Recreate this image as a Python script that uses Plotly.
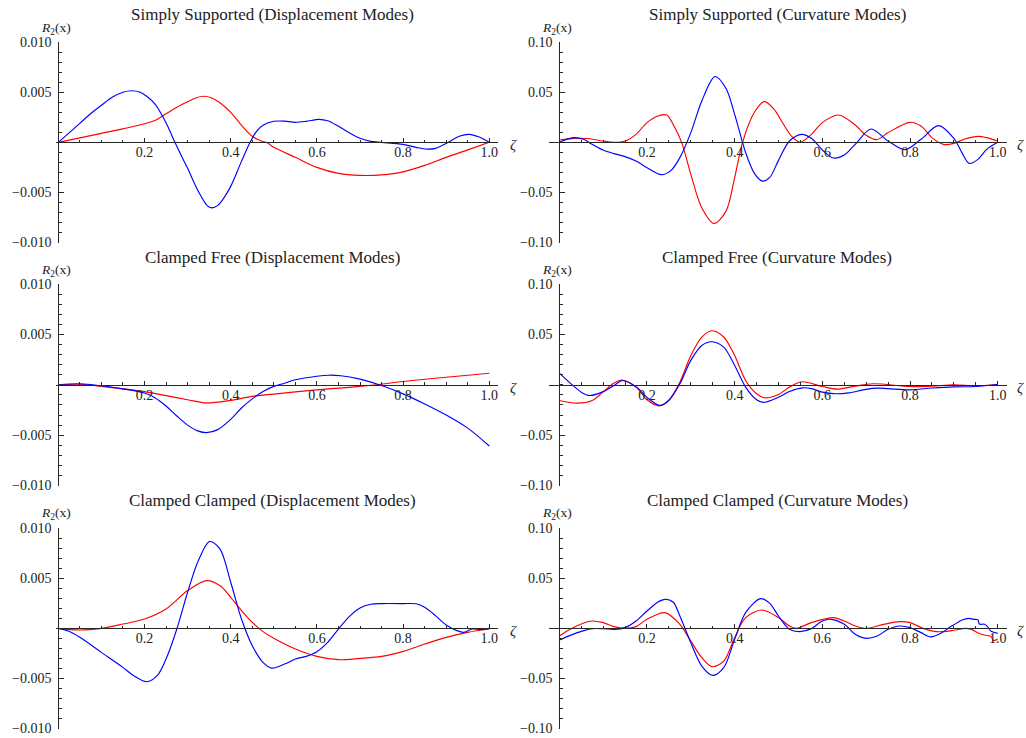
import plotly.graph_objects as go

W, H = 1026, 738

# ---------------- data: zeta positions and R2 values ----------------
# Simply Supported (Displacement Modes)
ss_disp_blue_z = [0, .025, .05, .075, .1, .125, .15, .17, .19, .205, .225, .24, .255, .27, .285, .3, .325, .345,
                  .356, .37, .385, .4, .425, .445, .46, .475, .5, .525, .55, .575, .605, .625, .65, .675, .7,
                  .725, .75, .8, .83, .855, .875, .905, .93, .954, .975, 1.0]
ss_disp_blue_v = [0, .00095, .0019, .00285, .0037, .0045, .005, .00515, .005, .0046, .0038, .00275, .0015, .00005,
                  -.0013, -.0026, -.0049, -.0063, -.00655, -.0063, -.0055, -.0044, -.0019, 0, .0011, .0017, .0021,
                  .00212, .002, .0021, .0023, .00215, .0016, .00095, .0004, .0001, 0, -.0002, -.0005, -.00068,
                  -.0006, 0, .0006, .0008, .00055, 0]
ss_disp_red_z = [0, .05, .1, .15, .2, .225, .25, .275, .3, .32, .337, .355, .375, .4, .425, .45, .47, .485, .5,
                 .55, .6, .65, .7, .75, .8, .85, .9, .95, 1.0]
ss_disp_red_v = [0, .00045, .0009, .00135, .00185, .0022, .00285, .0035, .00405, .00445, .0046, .00445, .00395,
                 .003, .0017, .0006, .00015, -.00005, -.0005, -.0015, -.0025, -.0031, -.0033, -.00325, -.00295,
                 -.0023, -.0015, -.00075, 0]

# Simply Supported (Curvature Modes)
ss_curv_blue_z = [0, .032, .055, .075, .1, .125, .15, .175, .2, .233, .255, .275, .3, .325, .355, .38, .4, .425,
                  .445, .463, .48, .5, .525, .553, .575, .6, .625, .65, .675, .711, .75, .789, .825, .865, .9,
                  .918, .935, .955, .975, 1.0]
ss_curv_blue_v = [0, .0047, .003, -.002, -.0077, -.0113, -.0143, -.0187, -.0253, -.0323, -.028, -.0153, .0097,
                  .0413, .0657, .054, .028, -.0103, -.031, -.0387, -.035, -.018, .0013, .008, .004, -.0077, -.0157,
                  -.0127, -.002, .0133, .0013, -.0073, .003, .0167, .004, -.01, -.021, -.017, -.007, 0]
ss_curv_red_z = [0, .035, .065, .1, .125, .15, .175, .2, .225, .245, .262, .279, .3, .325, .353, .38, .4, .418,
                 .445, .468, .49, .51, .53, .549, .575, .6, .637, .675, .7, .724, .75, .8, .825, .85, .876, .9,
                 .925, .956, .975, 1.0]
ss_curv_red_v = [.0023, .004, .0038, .0013, 0, .0013, .008, .0197, .0263, .0273, .016, 0, -.032, -.0653, -.081,
                 -.069, -.0353, 0, .03, .0407, .033, .019, .006, 0, .008, .0197, .0273, .0173, .007, .0027, .0097,
                 .02, .0163, .0047, -.002, -.001, .0033, .006, .0047, .0013]

# Clamped Free (Displacement Modes)
cf_disp_blue_z = [0, .05, .1, .15, .2, .225, .25, .275, .3, .325, .344, .37, .4, .425, .45, .475, .5, .525, .55,
                  .6, .627, .655, .7, .75, .8, .85, .9, .95, 1.0]
cf_disp_blue_v = [0, .0001, -.0001, -.0004, -.00082, -.0013, -.0021, -.0031, -.004, -.0046, -.00475, -.00445,
                  -.00344, -.0023, -.0014, -.00066, -.00016, .00016, .0005, .00085, .00095, .0009, .00056, -.00007,
                  -.0009, -.0019, -.003, -.0043, -.00607]
cf_disp_red_z = [0, .05, .1, .15, .2, .25, .3, .344, .4, .45, .5, .6, .7, .75, .8, .9, 1.0]
cf_disp_red_v = [0, .00005, -.00016, -.0004, -.00068, -.00108, -.00148, -.0018, -.00154, -.00115, -.00092,
                 -.0005, -.00016, .00007, .00033, .00075, .00115]

# Clamped Free (Curvature Modes)
cf_curv_blue_z = [0, .025, .05, .07, .1, .125, .144, .175, .2, .23, .25, .275, .3, .325, .348, .375, .4, .425,
                  .45, .465, .5, .525, .555, .575, .6, .63, .66, .7, .725, .75, .8, .85, .9, .95, 1.0]
cf_curv_blue_v = [.0116, .0017, -.0073, -.0106, -.0068, -.0007, .0043, -.002, -.0125, -.0205, -.0156, .001,
                  .0242, .039, .0427, .0374, .0192, -.0023, -.0149, -.0175, -.0123, -.0066, -.003, -.0038, -.0073,
                  -.0089, -.008, -.0045, -.0033, -.0038, -.005, -.0032, -.002, -.0017, .0003]
cf_curv_red_z = [0, .04, .075, .1, .125, .142, .175, .2, .228, .25, .275, .3, .325, .348, .375, .4, .425, .45,
                 .468, .5, .525, .553, .6, .633, .675, .716, .8, .85, .9, .95, 1.0]
cf_curv_red_v = [-.0156, -.0182, -.0156, -.007, .0017, .0046, -.0023, -.0149, -.0209, -.0149, .0026, .029, .0474,
                 .0536, .0474, .029, .0043, -.0089, -.0129, -.0096, -.0023, .003, -.0017, -.0043, -.0013, .001,
                 -.0017, -.0013, 0, -.001, .0003]

# Clamped Clamped (Displacement Modes)
cc_disp_blue_z = [0, .025, .05, .1, .15, .175, .205, .23, .25, .275, .3, .325, .351, .375, .4, .425, .45, .475,
                  .495, .525, .55, .575, .6, .625, .65, .675, .7, .725, .75, .8, .83, .85, .875, .9, .925, .94,
                  .96, .98, 1.0]
cc_disp_blue_v = [0, -.0003, -.0009, -.0024, -.0039, -.00473, -.00533, -.0047, -.00307, -.00007, .0036, .00677,
                  .00867, .00793, .0046, .00093, -.00173, -.0034, -.00397, -.00357, -.00307, -.0028, -.00233,
                  -.0014, -.00007, .00117, .00203, .0024, .00247, .00247, .00245, .0021, .00127, .00033, -.00023,
                  -.0004, -.00007, -.0001, 0]
cc_disp_red_z = [0, .05, .1, .15, .2, .25, .3, .344, .375, .4, .425, .45, .475, .5, .55, .6, .65, .7, .75, .8,
                 .85, .9, .95, 1.0]
cc_disp_red_v = [0, -.00017, 0, .00043, .00093, .00193, .00377, .00477, .00427, .0031, .00177, .0006, -.00033,
                 -.001, -.00207, -.0028, -.00313, -.003, -.0028, -.0023, -.00157, -.0009, -.0004, -.00007]

# Clamped Clamped (Curvature Modes)
cc_curv_blue_z = [0, .025, .05, .075, .1, .125, .15, .175, .2, .225, .241, .26, .275, .3, .325, .35, .375, .4,
                  .425, .459, .48, .5, .525, .549, .575, .6, .62, .65, .675, .7, .725, .75, .777, .8, .825, .847,
                  .87, .887, .9, .92, .933, .945, .955, .958, .97, .978, .985, 1.0]
cc_curv_blue_v = [-.0117, -.007, -.003, -.0003, -.0003, -.001, .0007, .0073, .0173, .0263, .029, .026, .0123,
                  -.0143, -.0377, -.047, -.0393, -.011, .0157, .0297, .025, .0123, -.001, -.0033, -.0003, .0073,
                  .009, .004, -.006, -.01, -.0077, -.001, .0023, .0007, -.0043, -.0085, -.005, 0, .0035, .0085,
                  .01, .009, .0085, .0043, .004, .001, -.003, -.005]
cc_curv_red_z = [0, .025, .05, .074, .1, .125, .15, .175, .2, .241, .275, .3, .325, .348, .375, .4, .425, .462,
                 .5, .525, .541, .575, .625, .65, .675, .701, .74, .777, .8, .83, .861, .895, .926, .94, .957,
                 .97, .985, .99, 1.0]
cc_curv_red_v = [-.0077, -.001, .0043, .0073, .0057, .0017, 0, .0017, .009, .0157, .004, -.0127, -.0293, -.0383,
                 -.0327, -.0093, .0107, .0183, .0107, .0023, 0, .0057, .0107, .0073, .0023, 0, .004, .0067, .0057,
                 0, -.0033, -.0023, 0, -.001, -.005, -.0067, -.0083, -.012, -.011]

x_tick_vals = [0.2, 0.4, 0.6, 0.8, 1.0]
x_tick_text = ["0.2", "0.4", "0.6", "0.8", "1.0"]
disp_tick_vals = [-0.01, -0.005, 0.005, 0.01]
disp_tick_text = ["\u22120.010", "\u22120.005", "0.005", "0.010"]
curv_tick_vals = [-0.1, -0.05, 0.05, 0.1]
curv_tick_text = ["\u22120.10", "\u22120.05", "0.05", "0.10"]

# ---------------- layout geometry (pixels) ----------------
SERIF = "Liberation Serif, Times New Roman, serif"
AXIS_COLOR = "#262626"
TEXT_COLOR = "#222222"
BLUE = "#0000ff"
RED = "#ff0000"

# x0/x1: pixel columns of zeta = 0 and zeta = 1
columns = [
    dict(x0=58.3, x1=489.3, rng=(-0.006, 1.02), ymax=0.01, yt=(disp_tick_vals, disp_tick_text), ydt=0.001,
         title_x=272, label_x=56, zeta_x=513),
    dict(x0=559.3, x1=997.7, rng=(-0.0228, 1.0205), ymax=0.1, yt=(curv_tick_vals, curv_tick_text), ydt=0.01,
         title_x=777, label_x=557, zeta_x=1020),
]
# top/bot: pixel rows of +ymax and -ymax
rows = [
    dict(top=35.9, bot=240.0, title_y=7.4, label_y=21.7),
    dict(top=282.4, bot=487.8, title_y=255.1, label_y=268.4),
    dict(top=531.3, bot=735.4, title_y=503.1, label_y=516.8),
]

panels = [
    ("Simply Supported (Displacement Modes)", 0, 0,
     (ss_disp_blue_z, ss_disp_blue_v), (ss_disp_red_z, ss_disp_red_v)),
    ("Simply Supported (Curvature Modes)", 0, 1,
     (ss_curv_blue_z, ss_curv_blue_v), (ss_curv_red_z, ss_curv_red_v)),
    ("Clamped Free (Displacement Modes)", 1, 0,
     (cf_disp_blue_z, cf_disp_blue_v), (cf_disp_red_z, cf_disp_red_v)),
    ("Clamped Free (Curvature Modes)", 1, 1,
     (cf_curv_blue_z, cf_curv_blue_v), (cf_curv_red_z, cf_curv_red_v)),
    ("Clamped Clamped (Displacement Modes)", 2, 0,
     (cc_disp_blue_z, cc_disp_blue_v), (cc_disp_red_z, cc_disp_red_v)),
    ("Clamped Clamped (Curvature Modes)", 2, 1,
     (cc_curv_blue_z, cc_curv_blue_v), (cc_curv_red_z, cc_curv_red_v)),
]


def px_x(p):
    return p / W


def px_y(p):
    return 1 - p / H


fig = go.Figure()
layout = dict(
    width=W, height=H,
    margin=dict(l=0, r=0, t=0, b=0),
    paper_bgcolor="white", plot_bgcolor="white",
    showlegend=False,
    annotations=[],
)

tick_font = dict(family=SERIF, size=14, color=TEXT_COLOR)

for i, (title, r, c, blue, red) in enumerate(panels, start=1):
    col = columns[c]
    row = rows[r]
    scale = (col["x1"] - col["x0"])
    lo, hi = col["rng"]
    dom_x = [px_x(col["x0"] + lo * scale), px_x(col["x0"] + hi * scale)]
    ymax = col["ymax"]
    pad = ymax * 0.005
    half = (row["bot"] - row["top"]) / 2
    zero_px = row["top"] + half
    dom_y = [px_y(row["bot"] + half * pad / ymax), px_y(row["top"] - half * pad / ymax)]

    xa = "x" if i == 1 else f"x{i}"
    ya = "y" if i == 1 else f"y{i}"

    for (zs, vs), color in ((red, RED), (blue, BLUE)):
        fig.add_trace(go.Scatter(
            x=zs, y=vs, mode="lines", xaxis=xa, yaxis=ya,
            line=dict(color=color, width=1.15, shape="spline", smoothing=0.9),
            hoverinfo="skip",
        ))

    layout["xaxis" if i == 1 else f"xaxis{i}"] = dict(
        domain=dom_x, range=[lo, hi], anchor="free", position=px_y(zero_px),
        showline=True, linecolor=AXIS_COLOR, linewidth=1, mirror=False,
        showgrid=False, zeroline=False,
        ticks="inside", ticklen=4, tickwidth=1, tickcolor=AXIS_COLOR,
        tickmode="array", tickvals=x_tick_vals, ticktext=x_tick_text,
        ticklabelstandoff=-3,
        minor=dict(ticks="inside", ticklen=2.5, tickwidth=1, tickcolor=AXIS_COLOR, tick0=0, dtick=0.05),
        tickfont=tick_font, fixedrange=True,
    )
    layout["yaxis" if i == 1 else f"yaxis{i}"] = dict(
        domain=dom_y, range=[-ymax - pad, ymax + pad], anchor="free", position=px_x(col["x0"]),
        showline=True, linecolor=AXIS_COLOR, linewidth=1,
        showgrid=False, zeroline=False,
        ticks="inside", ticklen=5, tickwidth=1, tickcolor=AXIS_COLOR,
        tickmode="array", tickvals=col["yt"][0], ticktext=col["yt"][1],
        ticklabelstandoff=4,
        minor=dict(ticks="inside", ticklen=3, tickwidth=1, tickcolor=AXIS_COLOR, tick0=0, dtick=col["ydt"]),
        tickfont=tick_font, fixedrange=True,
    )

    layout["annotations"] += [
        dict(text=title, x=px_x(col["title_x"]), y=px_y(row["title_y"]), xref="paper", yref="paper",
             xanchor="center", yanchor="middle", showarrow=False,
             font=dict(family=SERIF, size=17, color=TEXT_COLOR)),
        dict(text="<i>R</i><sub>2</sub>(x)", x=px_x(col["label_x"]), y=px_y(row["label_y"]),
             xref="paper", yref="paper", xanchor="center", yanchor="middle", showarrow=False,
             font=dict(family=SERIF, size=13.5, color=TEXT_COLOR)),
        dict(text="<i>\u03b6</i>", x=px_x(col["zeta_x"]), y=px_y(zero_px + 3), xref="paper", yref="paper",
             xanchor="center", yanchor="middle", showarrow=False,
             font=dict(family=SERIF, size=15, color=TEXT_COLOR)),
    ]

fig.update_layout(**layout)
fig.write_html("out.html", config=dict(displayModeBar=False))
